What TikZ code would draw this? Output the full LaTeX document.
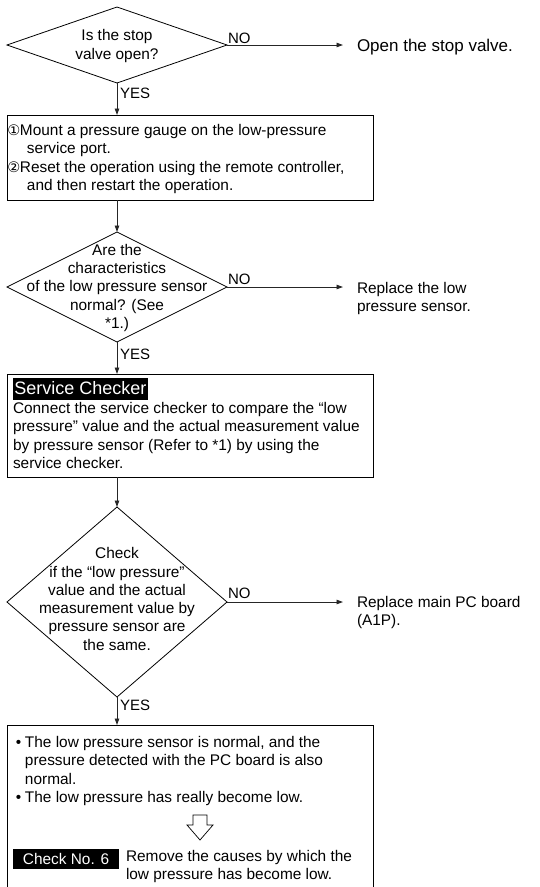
\documentclass[tikz,border=0pt]{standalone}
\usepackage{fontspec}
\setmainfont{Liberation Sans}
\newfontfamily\dejavu{DejaVu Sans}
\usetikzlibrary{shapes.geometric,arrows.meta}
\newcommand\cnum[1]{\makebox[12.5pt][l]{\dejavu\fontsize{14.5}{14.5}\selectfont #1}}
\newcommand\bul{\makebox[9pt][l]{•}}
\begin{document}
\begin{tikzpicture}[x=1pt,y=-1pt,
  dia/.style={draw, diamond, minimum width=220pt, inner sep=0pt, outer sep=0pt, line width=0.8pt},
  box/.style={draw, rectangle, minimum width=366pt, inner sep=0pt, outer sep=0pt, line width=0.8pt},
  txt/.style={inner sep=0pt, outer sep=0pt, font=\fontsize{15.4}{18.5}\selectfont, align=left},
  ctxt/.style={inner sep=0pt, outer sep=0pt, font=\fontsize{15.4}{18.3}\selectfont, align=center},
  lbl/.style={inner sep=0pt, outer sep=0pt, font=\fontsize{15}{16}\selectfont},
  tag/.style={fill=black, text=white, inner sep=0pt, outer sep=0pt},
  flow/.style={draw=black!85, line width=0.9pt, -{Triangle[length=6.5pt,width=4.5pt]}}
]
\useasboundingbox (0,0) rectangle (540,887);

% decision 1
\node[dia, minimum height=76pt] (d1) at (117,45) {};
\node[ctxt] (d1t) at (117,46) {Is the stop\\valve open?};
\node[txt, anchor=west, font=\fontsize{17}{18}\selectfont] (o1) at (357,47) {Open the stop valve.};
\node[lbl, anchor=south west] (n1) at (228,43.5) {NO};
\draw[flow, shorten >=14pt] (d1.east) -- (d1.east -| o1.west);
\node[lbl, anchor=west] (y1) at (120,93) {YES};

% box 1
\node[box, minimum height=85pt] (b1) at (190,157.5) {};
\draw[flow] (d1.south) -- (d1.south |- b1.north);
\node[txt, anchor=north west] (b1t) at (7.5,124) {\cnum{①}Mount a pressure gauge on the low-pressure\\\hspace*{19.5pt}service port.\\\cnum{②}Reset the operation using the remote controller,\\\hspace*{19.5pt}and then restart the operation.};

% decision 2
\node[dia, minimum height=110pt] (d2) at (117,287) {};
\draw[flow] (b1.south -| d2.north) -- (d2.north);
\node[ctxt] (d2t) at (117,288) {Are the\\characteristics\\of the low pressure sensor\\normal? (See\\*1.)};
\node[lbl, anchor=south west] (n2) at (228,284.5) {NO};
\node[txt, anchor=north west] (r2) at (357,282) {Replace the low\\pressure sensor.};
\draw[flow, shorten >=14pt] (d2.east) -- (d2.east -| r2.west);
\node[lbl, anchor=west] (y2) at (120,354) {YES};

% box 2
\node[box, minimum height=103pt] (b2) at (190,425.5) {};
\draw[flow] (d2.south) -- (d2.south |- b2.north);
\node[tag, anchor=north west, minimum width=135pt, minimum height=22pt, font=\fontsize{18}{18}\selectfont] (sc) at (13,377.5) {Service Checker};
\node[txt, anchor=north west] (b2t) at (13,402) {Connect the service checker to compare the “low\\pressure” value and the actual measurement value\\by pressure sensor (Refer to *1) by using the\\service checker.};

% decision 3
\node[dia, minimum height=190pt] (d3) at (117,602) {};
\draw[flow] (b2.south -| d3.north) -- (d3.north);
\node[ctxt] (d3t) at (117,599) {Check\\if the “low pressure”\\value and the actual\\measurement value by\\pressure sensor are\\the same.};
\node[lbl, anchor=south west] (n3) at (228,598.5) {NO};
\node[txt, anchor=north west] (r3) at (357,596) {Replace main PC board\\(A1P).};
\draw[flow, shorten >=14pt] (d3.east) -- (d3.east -| r3.west);
\node[lbl, anchor=west] (y3) at (120,705) {YES};

% box 3
\node[box, minimum height=164pt] (b3) at (190,807) {};
\draw[flow] (d3.south) -- (d3.south |- b3.north);
\node[txt, anchor=north west] (b3t) at (16,736) {\bul The low pressure sensor is normal, and the\\\hspace*{9pt}pressure detected with the PC board is also\\\hspace*{9pt}normal.\\\bul The low pressure has really become low.};
\draw[line width=0.7pt, fill=white] (193,815) -- (207,815) -- (207,825) -- (213,825) -- (200,840) -- (187,825) -- (193,825) -- cycle;
\node[tag, anchor=north west, minimum width=106pt, minimum height=20pt, font=\fontsize{15.4}{15.4}\selectfont] (cn) at (13,848.5) {Check No. 6};
\node[txt, anchor=north west] (rm) at (126,850) {Remove the causes by which the\\low pressure has become low.};
\end{tikzpicture}
\end{document}
